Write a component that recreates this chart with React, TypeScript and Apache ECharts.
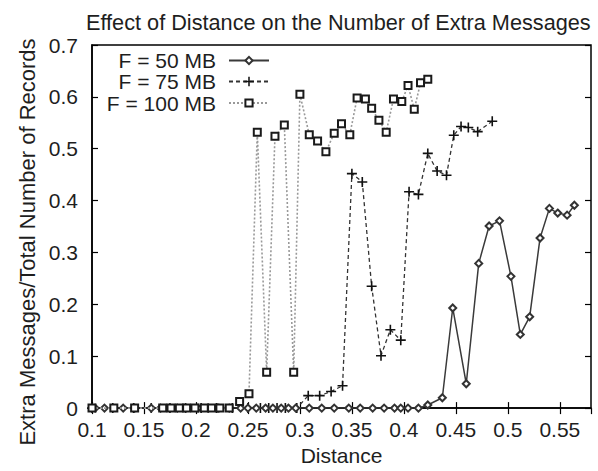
import React, { useEffect, useRef } from "react";
import * as echarts from "echarts";

const seriesNames = ["F = 50 MB", "F = 75 MB", "F = 100 MB"];

const mb50: [number, number][] = [
  [0.103, 0], [0.112, 0], [0.13, 0], [0.141, 0], [0.157, 0], [0.166, 0], [0.182, 0], [0.19, 0],
  [0.202, 0], [0.212, 0], [0.222, 0], [0.232, 0], [0.243, 0], [0.25, 0], [0.258, 0], [0.267, 0],
  [0.274, 0], [0.282, 0], [0.289, 0], [0.296, 0], [0.309, 0], [0.321, 0], [0.333, 0], [0.347, 0],
  [0.358, 0], [0.37, 0], [0.381, 0], [0.391, 0], [0.397, 0], [0.404, 0], [0.414, 0],
  [0.423, 0.006], [0.437, 0.02], [0.447, 0.193], [0.46, 0.047], [0.472, 0.279], [0.482, 0.351],
  [0.492, 0.361], [0.503, 0.254], [0.512, 0.142], [0.521, 0.176], [0.531, 0.328], [0.54, 0.385],
  [0.548, 0.376], [0.557, 0.372], [0.564, 0.391],
];

const mb75: [number, number][] = [
  [0.1, 0], [0.12, 0], [0.14, 0], [0.157, 0], [0.175, 0], [0.19, 0], [0.205, 0], [0.22, 0],
  [0.235, 0], [0.25, 0], [0.262, 0], [0.27, 0], [0.278, 0], [0.286, 0], [0.297, 0],
  [0.308, 0.024], [0.319, 0.024], [0.33, 0.032], [0.341, 0.043], [0.35, 0.452], [0.36, 0.436],
  [0.369, 0.235], [0.378, 0.101], [0.387, 0.151], [0.397, 0.131], [0.405, 0.417], [0.414, 0.412],
  [0.423, 0.491], [0.432, 0.457], [0.441, 0.449], [0.448, 0.526], [0.455, 0.543], [0.462, 0.541],
  [0.471, 0.533], [0.485, 0.553],
];

const mb100: [number, number][] = [
  [0.1, 0], [0.121, 0], [0.141, 0], [0.168, 0], [0.176, 0], [0.184, 0], [0.191, 0], [0.199, 0],
  [0.208, 0], [0.215, 0], [0.223, 0], [0.232, 0], [0.242, 0.0125], [0.251, 0.0275],
  [0.259, 0.532], [0.268, 0.069], [0.276, 0.524], [0.285, 0.546], [0.294, 0.069], [0.3, 0.605],
  [0.309, 0.527], [0.317, 0.515], [0.325, 0.494], [0.333, 0.53], [0.34, 0.548], [0.348, 0.527],
  [0.355, 0.598], [0.363, 0.596], [0.369, 0.578], [0.376, 0.555], [0.383, 0.532], [0.39, 0.596],
  [0.398, 0.591], [0.404, 0.622], [0.41, 0.576], [0.416, 0.627], [0.423, 0.634],
];

const titleText = "Effect of Distance on the Number of Extra Messages";
const xName = "Distance";
const yName = "Extra Messages/Total Number of Records";

const FONT = "'Liberation Sans', Arial, Helvetica, sans-serif";
const TXT = "#1e1e1e";
const PLUS = "path://M4.2,0h1.6v4.2h4.2v1.6h-4.2v4.2h-1.6v-4.2h-4.2v-1.6h4.2z";

export default function App() {
  const ref = useRef<HTMLDivElement>(null);
  useEffect(() => {
    if (!ref.current) return;
    const chart = echarts.init(ref.current, null, { renderer: "svg" });
    const tick = { show: true, inside: true, length: 6, lineStyle: { color: "#000", width: 1.2 } };
    const legendBase = {
      orient: "vertical" as const,
      align: "right" as const,
      right: 328,
      padding: 0,
      itemWidth: 40,
      textStyle: { fontSize: 21, color: TXT, fontFamily: FONT, padding: [0, 8, 0, 0] },
    };
    chart.setOption({
      animation: false,
      backgroundColor: "#fff",
      textStyle: { fontFamily: FONT },
      title: {
        text: titleText,
        left: 86,
        top: 11,
        padding: 0,
        textStyle: { fontSize: 21.7, fontWeight: "normal", color: TXT, fontFamily: FONT },
      },
      legend: [
        { ...legendBase, data: [seriesNames[0]], top: 50, itemHeight: 9 },
        { ...legendBase, data: [seriesNames[1]], top: 71, itemHeight: 12 },
        { ...legendBase, data: [seriesNames[2]], top: 92.5, itemHeight: 9 },
      ],
      grid: {
        left: 92,
        right: 7,
        top: 45,
        bottom: 52,
        show: true,
        borderColor: "#000",
        borderWidth: 1.5,
        backgroundColor: "transparent",
      },
      xAxis: [
        {
          type: "value",
          min: 0.1,
          max: 0.58,
          interval: 0.05,
          name: xName,
          nameLocation: "middle",
          nameGap: 32,
          nameTextStyle: { fontSize: 21, color: TXT, fontFamily: FONT },
          axisLine: { show: true, lineStyle: { color: "#000", width: 1.5 } },
          axisTick: tick,
          splitLine: { show: false },
          axisLabel: { fontSize: 21, color: TXT, fontFamily: FONT, margin: 11, showMaxLabel: false },
        },
        {
          type: "value",
          position: "top",
          min: 0.1,
          max: 0.58,
          interval: 0.05,
          axisLine: { show: false },
          axisTick: tick,
          splitLine: { show: false },
          axisLabel: { show: false },
        },
      ],
      yAxis: [
        {
          type: "value",
          min: 0,
          max: 0.7,
          interval: 0.1,
          axisLine: { show: true, lineStyle: { color: "#000", width: 1.5 } },
          axisTick: tick,
          splitLine: { show: false },
          axisLabel: { fontSize: 21, color: TXT, fontFamily: FONT, margin: 14 },
        },
        {
          type: "value",
          position: "right",
          min: 0,
          max: 0.7,
          interval: 0.1,
          axisLine: { show: false },
          axisTick: tick,
          splitLine: { show: false },
          axisLabel: { show: false },
        },
      ],
      graphic: [
        {
          type: "text",
          x: 27,
          y: 242,
          rotation: Math.PI / 2,
          style: {
            text: yName,
            fontSize: 22,
            fontFamily: FONT,
            fill: TXT,
            align: "center",
            verticalAlign: "middle",
          },
        },
      ],
      series: [
        {
          name: seriesNames[0],
          type: "line",
          data: mb50,
          symbol: "emptyDiamond",
          symbolSize: 7,
          lineStyle: { color: "#3a3a3a", width: 1.5, type: "solid" },
          itemStyle: { color: "#333", borderColor: "#333", borderWidth: 1.3 },
          z: 4,
        },
        {
          name: seriesNames[1],
          type: "line",
          data: mb75,
          symbol: PLUS,
          symbolSize: 10,
          lineStyle: { color: "#333", width: 1.3, type: [4, 3] },
          itemStyle: { color: "#111" },
          z: 3,
        },
        {
          name: seriesNames[2],
          type: "line",
          data: mb100,
          symbol: "emptyRect",
          symbolSize: 7,
          lineStyle: { color: "#999", width: 1.6, type: [2, 2] },
          itemStyle: { color: "#1a1a1a", borderColor: "#1a1a1a", borderWidth: 1.5 },
          z: 5,
        },
      ],
    });
    return () => chart.dispose();
  }, []);
  return (
    <div
      ref={ref}
      style={{ position: "absolute", left: 0, top: 0, width: 598, height: 471 }}
    />
  );
}
